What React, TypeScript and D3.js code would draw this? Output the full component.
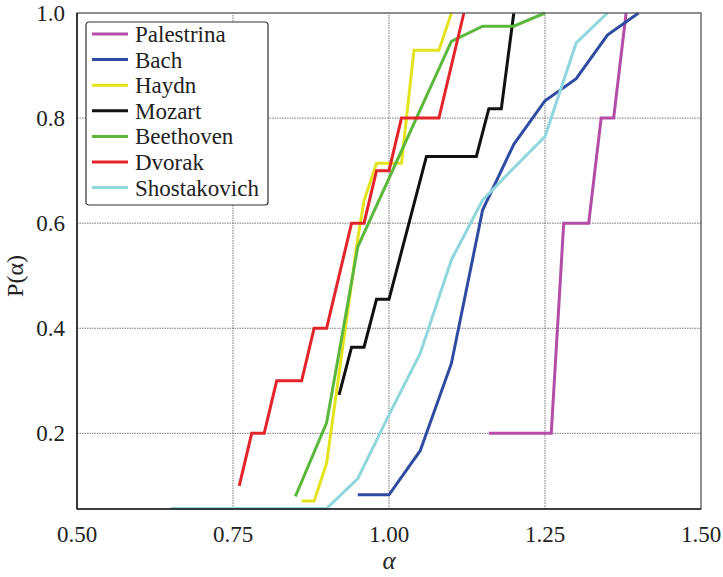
import * as d3 from "d3";
import { useRef, useEffect } from "react";

// composers and their P(alpha) curves
const composers = [
  "Palestrina",
  "Bach",
  "Haydn",
  "Mozart",
  "Beethoven",
  "Dvorak",
  "Shostakovich",
];

const palestrina = [
  [1.16, 0.2], [1.26, 0.2], [1.28, 0.6], [1.32, 0.6], [1.34, 0.8], [1.36, 0.8], [1.38, 1.0],
];
const bach = [
  [0.95, 0.083], [1.0, 0.083], [1.05, 0.167], [1.1, 0.333], [1.15, 0.625], [1.2, 0.75],
  [1.25, 0.833], [1.3, 0.875], [1.35, 0.958], [1.4, 1.0],
];
const haydn = [
  [0.86, 0.071], [0.88, 0.071], [0.9, 0.143], [0.95, 0.571], [0.96, 0.643], [0.98, 0.714],
  [1.02, 0.714], [1.04, 0.929], [1.08, 0.929], [1.1, 1.0],
];
const mozart = [
  [0.92, 0.273], [0.94, 0.364], [0.96, 0.364], [0.98, 0.455], [1.0, 0.455], [1.06, 0.727],
  [1.14, 0.727], [1.16, 0.818], [1.18, 0.818], [1.2, 1.0],
];
const beethoven = [
  [0.85, 0.08], [0.9, 0.22], [0.95, 0.555], [1.1, 0.946], [1.15, 0.975], [1.2, 0.975], [1.25, 1.0],
];
const dvorak = [
  [0.76, 0.1], [0.78, 0.2], [0.8, 0.2], [0.82, 0.3], [0.86, 0.3], [0.88, 0.4], [0.9, 0.4],
  [0.94, 0.6], [0.96, 0.6], [0.98, 0.7], [1.0, 0.7], [1.02, 0.8], [1.08, 0.8], [1.12, 1.0],
];
const shostakovich = [
  [0.65, 0.057], [0.9, 0.057], [0.95, 0.114], [1.0, 0.235], [1.05, 0.352], [1.1, 0.53],
  [1.15, 0.644], [1.2, 0.705], [1.25, 0.765], [1.3, 0.943], [1.35, 1.0],
];

const series = [palestrina, bach, haydn, mozart, beethoven, dvorak, shostakovich];
const colors = ["#b44ca8", "#2f4ca2", "#e4e41c", "#111111", "#5cb83c", "#e3252b", "#8fd7dc"];

const xTicks = [0.5, 0.75, 1.0, 1.25, 1.5];
const yTicks = [0.2, 0.4, 0.6, 0.8, 1.0];
const xDomain = [0.5, 1.5];
const yDomain = [0.056, 1.0];

const App = () => {
  const container = useRef(null);

  useEffect(() => {
    createChart();
  });

  const createChart = () => {
    let node = container.current;
    let width = 723;
    let height = 577;
    let margins = { t: 13, b: 68, l: 77, r: 22 };
    let font = "Liberation Serif, Tinos, DejaVu Serif, Times New Roman, serif";

    let svg = d3.select(node);
    svg.selectAll("*").remove();
    svg.attr("width", width).attr("height", height);

    let xScale = d3.scaleLinear().domain(xDomain).range([margins.l, width - margins.r]);
    let yScale = d3.scaleLinear().domain(yDomain).range([height - margins.b, margins.t]);

    // grid
    let gridg = svg.append("g").attr("class", "grid-g");
    gridg
      .selectAll(".grid-x")
      .data(xTicks.slice(1, -1))
      .join("line")
      .attr("x1", (d) => xScale(d))
      .attr("x2", (d) => xScale(d))
      .attr("y1", yScale.range()[0])
      .attr("y2", yScale.range()[1])
      .attr("stroke", "#777")
      .attr("stroke-width", 1)
      .attr("stroke-dasharray", "1.5,1");
    gridg
      .selectAll(".grid-y")
      .data(yTicks.slice(0, -1))
      .join("line")
      .attr("x1", xScale.range()[0])
      .attr("x2", xScale.range()[1])
      .attr("y1", (d) => yScale(d))
      .attr("y2", (d) => yScale(d))
      .attr("stroke", "#777")
      .attr("stroke-width", 1)
      .attr("stroke-dasharray", "1.5,1");

    // data lines
    let lineGen = d3
      .line()
      .x((d) => xScale(d[0]))
      .y((d) => yScale(d[1]));

    svg
      .append("g")
      .attr("class", "lines-g")
      .selectAll(".data-line")
      .data(series)
      .join("path")
      .attr("class", "data-line")
      .attr("d", lineGen)
      .attr("fill", "none")
      .attr("stroke", (d, i) => colors[i])
      .attr("stroke-width", 3)
      .attr("stroke-linejoin", "miter");

    // frame
    let [x0, x1] = xScale.range();
    let [y0, y1] = yScale.range();
    svg
      .append("rect")
      .attr("x", x0)
      .attr("y", y1)
      .attr("width", x1 - x0)
      .attr("height", y0 - y1)
      .attr("fill", "none")
      .attr("stroke", "#555")
      .attr("stroke-width", 1.3);
    svg.append("line").attr("x1", x0).attr("x2", x0).attr("y1", y1).attr("y2", y0)
      .attr("stroke", "#222").attr("stroke-width", 1.6);
    svg.append("line").attr("x1", x0).attr("x2", x1).attr("y1", y0).attr("y2", y0)
      .attr("stroke", "#222").attr("stroke-width", 1.6);

    // axes tick labels
    svg
      .append("g")
      .selectAll(".x-tick")
      .data(xTicks)
      .join("text")
      .attr("x", (d) => xScale(d))
      .attr("y", y0 + 33)
      .attr("text-anchor", "middle")
      .attr("font-family", font)
      .attr("font-size", 23)
      .attr("fill", "#222")
      .text((d) => d3.format(".2f")(d));

    svg
      .append("g")
      .selectAll(".y-tick")
      .data(yTicks)
      .join("text")
      .attr("x", x0 - 12)
      .attr("y", (d) => yScale(d) + 8)
      .attr("text-anchor", "end")
      .attr("font-family", font)
      .attr("font-size", 23)
      .attr("fill", "#222")
      .text((d) => d3.format(".1f")(d));

    // axis titles
    svg
      .append("text")
      .attr("x", (x0 + x1) / 2)
      .attr("y", y0 + 60)
      .attr("text-anchor", "middle")
      .attr("font-family", font)
      .attr("font-size", 25)
      .attr("font-style", "italic")
      .attr("fill", "#222")
      .text("α");

    svg
      .append("text")
      .attr("transform", `translate(23,${(y0 + y1) / 2 + 15})rotate(-90)`)
      .attr("text-anchor", "middle")
      .attr("font-family", font)
      .attr("font-size", 24)
      .attr("fill", "#222")
      .text("P(α)");

    // legend
    let legendg = svg.append("g").attr("transform", `translate(86,22)`);
    legendg
      .append("rect")
      .attr("width", 182)
      .attr("height", 183)
      .attr("rx", 3)
      .attr("fill", "white")
      .attr("stroke", "#333")
      .attr("stroke-width", 1.2);
    let rowH = 25.6;
    legendg
      .selectAll(".legend-line")
      .data(composers)
      .join("line")
      .attr("x1", 6)
      .attr("x2", 42)
      .attr("y1", (d, i) => 12 + rowH * i)
      .attr("y2", (d, i) => 12 + rowH * i)
      .attr("stroke", (d, i) => colors[i])
      .attr("stroke-width", 3);
    legendg
      .selectAll(".legend-text")
      .data(composers)
      .join("text")
      .attr("x", 49)
      .attr("y", (d, i) => 12 + rowH * i + 8)
      .attr("font-family", font)
      .attr("font-size", 23)
      .attr("fill", "#222")
      .text((d) => d);
  };

  return (
    <svg
      ref={container}
      style={{ position: "absolute", left: 0, top: 0, background: "white" }}
      width={723}
      height={577}
    ></svg>
  );
};

export default App;
